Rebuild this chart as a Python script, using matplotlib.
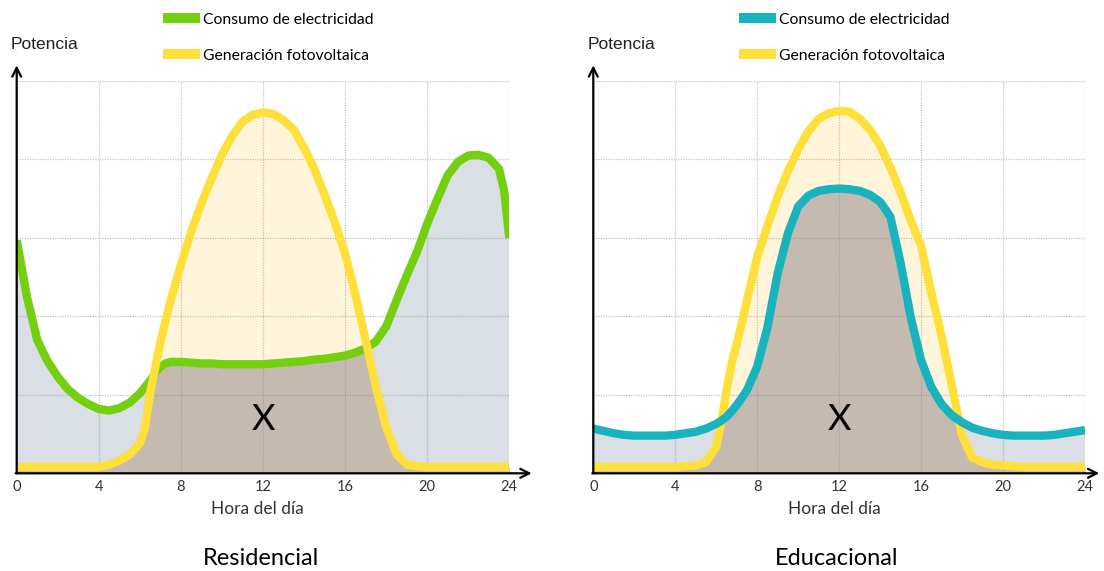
import matplotlib
matplotlib.use("Agg")
import matplotlib.pyplot as plt
from matplotlib.patches import Patch
import numpy as np

# ---------------- data ----------------
hours = [0, 0.5, 1, 1.5, 2, 2.5, 3, 3.5, 4, 4.5, 5, 5.5, 6, 6.25, 6.5, 6.75, 7, 7.25,
         7.5, 8, 8.5, 9, 9.5, 10, 10.5, 11, 11.5, 12, 12.5, 13, 13.5, 14, 14.5, 15,
         15.5, 16, 16.5, 17, 17.5, 18, 18.5, 19, 19.5, 20, 20.5, 21, 21.5, 22, 22.5,
         23, 23.5, 23.75, 24]

res_consumo = [2.97, 2.25, 1.70, 1.43, 1.23, 1.07, 0.96, 0.88, 0.82, 0.80, 0.83, 0.90,
               1.02, 1.10, 1.18, 1.28, 1.36, 1.40, 1.42, 1.42, 1.41, 1.40, 1.40, 1.39,
               1.39, 1.39, 1.39, 1.39, 1.40, 1.41, 1.42, 1.43, 1.45, 1.46, 1.48, 1.50,
               1.54, 1.59, 1.68, 1.87, 2.20, 2.52, 2.82, 3.18, 3.50, 3.80, 3.97, 4.05,
               4.06, 4.02, 3.88, 3.60, 3.00]

res_fv = [0.08, 0.08, 0.08, 0.08, 0.08, 0.08, 0.08, 0.08, 0.08, 0.11, 0.16, 0.24,
          0.38, 0.58, 1.02, 1.35, 1.67, 1.95, 2.20, 2.66, 3.08, 3.44, 3.76, 4.06,
          4.30, 4.48, 4.57, 4.60, 4.58, 4.50, 4.38, 4.15, 3.88, 3.55, 3.20, 2.80,
          2.28, 1.70, 1.10, 0.59, 0.25, 0.11, 0.09, 0.08, 0.08, 0.08, 0.08, 0.08,
          0.08, 0.08, 0.08, 0.08, 0.08]

edu_consumo = [0.57, 0.54, 0.51, 0.49, 0.48, 0.48, 0.48, 0.48, 0.49, 0.51, 0.53, 0.57,
               0.63, 0.67, 0.72, 0.79, 0.87, 0.96, 1.06, 1.36, 1.86, 2.55, 3.06, 3.40,
               3.54, 3.60, 3.62, 3.63, 3.62, 3.60, 3.55, 3.46, 3.27, 2.68, 1.98, 1.44,
               1.10, 0.88, 0.74, 0.65, 0.58, 0.54, 0.51, 0.49, 0.48, 0.48, 0.48, 0.48,
               0.49, 0.51, 0.53, 0.54, 0.55]

edu_fv = [0.08, 0.08, 0.08, 0.08, 0.08, 0.08, 0.08, 0.08, 0.08, 0.09, 0.10, 0.14,
          0.34, 0.65, 1.05, 1.40, 1.65, 1.92, 2.20, 2.76, 3.15, 3.53, 3.85, 4.13,
          4.36, 4.52, 4.59, 4.62, 4.61, 4.52, 4.38, 4.18, 3.90, 3.58, 3.22, 2.90,
          2.30, 1.75, 1.12, 0.48, 0.20, 0.14, 0.11, 0.10, 0.09, 0.08, 0.08, 0.08,
          0.08, 0.08, 0.08, 0.08, 0.08]

tick_hours = [0, 4, 8, 12, 16, 20, 24]
tick_labels = ["0", "4", "8", "12", "16", "20", "24"]
grid_levels = [1, 2, 3, 4, 5]

legend_labels = ["Consumo de electricidad", "Generación fotovoltaica"]
panel_titles = ["Residencial", "Educacional"]

# ---------------- style ----------------
GREEN = "#74CF10"
CYAN = "#19B3BE"
YELLOW = "#FFE03A"
BROWN = "#C4BAAF"
LIGHT_YELLOW = "#FFF5DA"
LIGHT_BLUE = "#D9DFE4"

W, H = 1104, 571
fig = plt.figure(figsize=(W / 100, H / 100), dpi=100)

LABEL_FONT = ["Lato", "DejaVu Sans"]
ARIAL_FONT = ["Liberation Sans", "DejaVu Sans"]


def make_panel(ax, cons, fv, cons_color, title, xarrow, yellow_on_top, leg_x):
    x = np.array(hours)
    c = np.array(cons)
    g = np.array(fv)
    ax.set_xlim(0, 24)
    ax.set_ylim(0, 5)
    for s in ax.spines.values():
        s.set_visible(False)

    lower = np.minimum(c, g)
    ax.fill_between(x, 0, lower, color=BROWN, lw=0, zorder=1)
    ax.fill_between(x, c, g, where=g >= c, interpolate=True, color=LIGHT_YELLOW, lw=0, zorder=1)
    ax.fill_between(x, g, c, where=c >= g, interpolate=True, color=LIGHT_BLUE, lw=0, zorder=1)

    for t in tick_hours[1:]:
        ax.axvline(t, color="#8a8a8a", lw=0.9, ls=(0, (1, 1)), alpha=0.5, zorder=1.5)
    for lv in grid_levels:
        ax.axhline(lv, color="#8a8a8a", lw=0.9, ls=(0, (1, 1)), alpha=0.5, zorder=1.5)

    zc, zg = (3, 4) if yellow_on_top else (4, 3)
    ax.plot(x, g, color=YELLOW, lw=6.0, solid_capstyle="butt", solid_joinstyle="round", zorder=zg)
    ax.plot(x, c, color=cons_color, lw=6.0, solid_capstyle="butt", solid_joinstyle="round", zorder=zc)

    # axes with arrows
    ax.annotate("", xy=(xarrow, 0), xytext=(-0.05, 0), xycoords="data",
                arrowprops=dict(arrowstyle="->", lw=1.6, color="black", shrinkA=0, shrinkB=0,
                                mutation_scale=16), annotation_clip=False, zorder=6)
    ax.annotate("", xy=(0, 5.2), xytext=(0, 0), xycoords="data",
                arrowprops=dict(arrowstyle="->", lw=1.6, color="black", shrinkA=0, shrinkB=0,
                                mutation_scale=16), annotation_clip=False, zorder=6)

    ax.set_xticks(tick_hours)
    ax.set_xticklabels(tick_labels, fontfamily=LABEL_FONT, fontsize=10.5, color="#333333")
    ax.set_yticks([])
    ax.tick_params(axis="x", length=0, pad=5)

    ax.text(-0.3, 5.46, "Potencia", fontfamily=ARIAL_FONT, fontsize=12.5, color="#222222",
            ha="left", va="center", clip_on=False)
    ax.text(12, 0.69, "X", fontfamily=LABEL_FONT, fontsize=26, color="black",
            ha="center", va="center", zorder=7)
    ax.text(11.75, -0.45, "Hora del día", fontfamily=LABEL_FONT, fontsize=12.5, color="#333333",
            ha="center", va="center", clip_on=False)
    ax.text(11.9, -1.09, title, fontfamily=LABEL_FONT, fontsize=17, color="black",
            ha="center", va="center", clip_on=False)

    handles = [Patch(facecolor=cons_color, edgecolor="none"),
               Patch(facecolor=YELLOW, edgecolor="none")]
    fig.legend(handles, legend_labels, loc="upper left",
               bbox_to_anchor=(leg_x / W, 1 - 12.5 / H), frameon=False,
               prop=dict(family=LABEL_FONT, size=11.3), handlelength=2.35,
               handleheight=0.58, handletextpad=0.2, labelspacing=1.42,
               borderpad=0, borderaxespad=0)


axL = fig.add_axes([16.7 / W, 1 - 473.3 / H, 492.6 / W, 392.3 / H])
axR = fig.add_axes([593.3 / W, 1 - 473.3 / H, 491.7 / W, 392.3 / H])

make_panel(axL, res_consumo, res_fv, GREEN, panel_titles[0], 25.09, True, 163)
make_panel(axR, edu_consumo, edu_fv, CYAN, panel_titles[1], 24.7, False, 739)

fig.savefig("out.png", dpi=100)
